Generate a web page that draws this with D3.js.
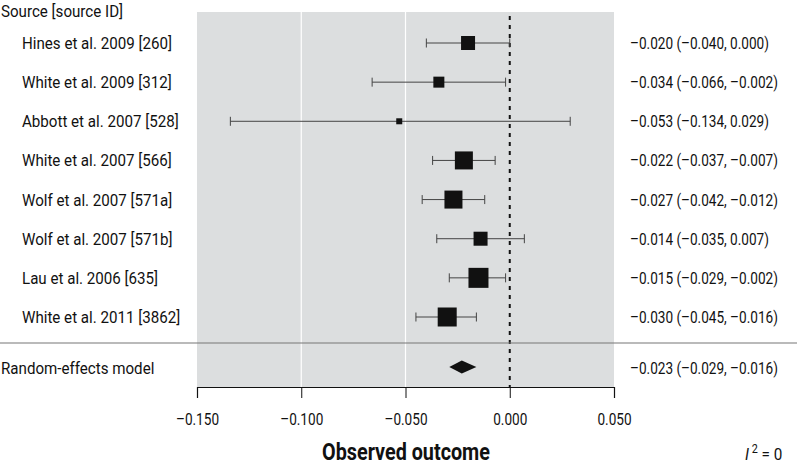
<!DOCTYPE html>
<html><head><meta charset="utf-8">
<script src="https://cdn.jsdelivr.net/npm/d3@7"></script>
<style>body{margin:0;background:#fff}svg{display:block}text{font-family:Roboto,sans-serif;fill:#111}</style>
</head><body><svg id="c" width="800" height="465"></svg>
<script>
const studies = ["Hines et al. 2009 [260]","White et al. 2009 [312]","Abbott et al. 2007 [528]","White et al. 2007 [566]","Wolf et al. 2007 [571a]","Wolf et al. 2007 [571b]","Lau et al. 2006 [635]","White et al. 2011 [3862]"];
const estimates = [-0.020,-0.034,-0.053,-0.022,-0.027,-0.014,-0.015,-0.030];
const lower = [-0.040,-0.066,-0.134,-0.037,-0.042,-0.035,-0.029,-0.045];
const upper = [0.000,-0.002,0.029,-0.007,-0.012,0.007,-0.002,-0.016];
const weights = [14,11,6,18,18,14,20,19];
const pooled = {label:"Random-effects model", est:-0.023, lo:-0.029, hi:-0.016};
const ticks = [-0.150,-0.100,-0.050,0.000,0.050];
const gridVals = [-0.100,-0.050];

const svg = d3.select("#c");
const x = d3.scaleLinear().domain([-0.15,0.05]).range([197,614]);
const y = d3.scaleLinear().domain([0,7]).range([43,317]);
const panelTop = 12, axisY = 387, pooledY = 367, sepY = 343;
const FS = 17, SL = 0.89, SN = 0.80;
const fmt = v => (v<0?"\u2013":"")+Math.abs(v).toFixed(3);
const tr = (tx,ty,s) => `translate(${tx},${ty}) scale(${s},1)`;

svg.append("rect").attr("x",x(-0.15)).attr("y",panelTop).attr("width",x(0.05)-x(-0.15)).attr("height",axisY-panelTop).attr("fill","#dcdedf");
svg.selectAll(".grid").data(gridVals).enter().append("line").attr("x1",d=>x(d)).attr("x2",d=>x(d)).attr("y1",panelTop).attr("y2",axisY).attr("stroke","#fff").attr("stroke-width",1.2);
svg.append("line").attr("x1",x(0)).attr("x2",x(0)).attr("y1",panelTop+4).attr("y2",axisY).attr("stroke","#111").attr("stroke-width",2).attr("stroke-dasharray","4,5");
svg.append("line").attr("x1",0).attr("x2",797).attr("y1",sepY).attr("y2",sepY).attr("stroke","#777").attr("stroke-width",1.2);

const g = svg.selectAll(".row").data(studies).enter().append("g");
g.append("line").attr("x1",(d,i)=>x(lower[i])).attr("x2",(d,i)=>x(upper[i])).attr("y1",(d,i)=>y(i)).attr("y2",(d,i)=>y(i)).attr("stroke","#444").attr("stroke-width",1);
g.append("line").attr("x1",(d,i)=>x(lower[i])).attr("x2",(d,i)=>x(lower[i])).attr("y1",(d,i)=>y(i)-4.5).attr("y2",(d,i)=>y(i)+4.5).attr("stroke","#444");
g.append("line").attr("x1",(d,i)=>x(upper[i])).attr("x2",(d,i)=>x(upper[i])).attr("y1",(d,i)=>y(i)-4.5).attr("y2",(d,i)=>y(i)+4.5).attr("stroke","#444");
g.append("rect").attr("x",(d,i)=>x(estimates[i])-weights[i]/2).attr("y",(d,i)=>y(i)-weights[i]/2).attr("width",(d,i)=>weights[i]).attr("height",(d,i)=>weights[i]).attr("fill","#111");
g.append("text").attr("transform",(d,i)=>tr(22,y(i)+6,SL)).attr("font-size",FS).text(d=>d);
g.append("text").attr("transform",(d,i)=>tr(630,y(i)+6,SN)).attr("font-size",FS).text((d,i)=>`${fmt(estimates[i])} (${fmt(lower[i])}, ${fmt(upper[i])})`);

svg.append("text").attr("transform",tr(1,17,SL)).attr("font-size",FS).text("Source [source ID]");
svg.append("path").attr("d",`M${x(pooled.lo)},${pooledY} L${x(pooled.est)},${pooledY-6.5} L${x(pooled.hi)},${pooledY} L${x(pooled.est)},${pooledY+6.5} Z`).attr("fill","#111");
svg.append("text").attr("transform",tr(1,pooledY+6.5,SL)).attr("font-size",FS).text(pooled.label);
svg.append("text").attr("transform",tr(630,pooledY+6.5,SN)).attr("font-size",FS).text(`${fmt(pooled.est)} (${fmt(pooled.lo)}, ${fmt(pooled.hi)})`);

const axis = d3.axisBottom(x).tickValues(ticks).tickSize(11).tickFormat(fmt);
const ag = svg.append("g").attr("transform",`translate(0,${axisY})`).call(axis);
ag.select(".domain").attr("stroke","#111").attr("stroke-width",1.2);
ag.selectAll(".tick line").attr("stroke","#111");
ag.selectAll(".tick text").attr("font-family",null).attr("font-size",FS).attr("dy",0).attr("y",0).attr("transform",tr(0,38,SN)).style("fill","#111");

svg.append("text").attr("transform",tr(406,460,0.86)).attr("text-anchor","middle").attr("font-size",23).attr("font-weight","bold").text("Observed outcome");
const i2 = svg.append("text").attr("transform",tr(745,460,0.9)).attr("font-size",FS);
i2.append("tspan").attr("font-style","italic").text("I");
i2.append("tspan").attr("font-size",12).attr("dy",-7).attr("dx",3).text("2");
i2.append("tspan").attr("dy",7).text(" = 0");
</script></body></html>
